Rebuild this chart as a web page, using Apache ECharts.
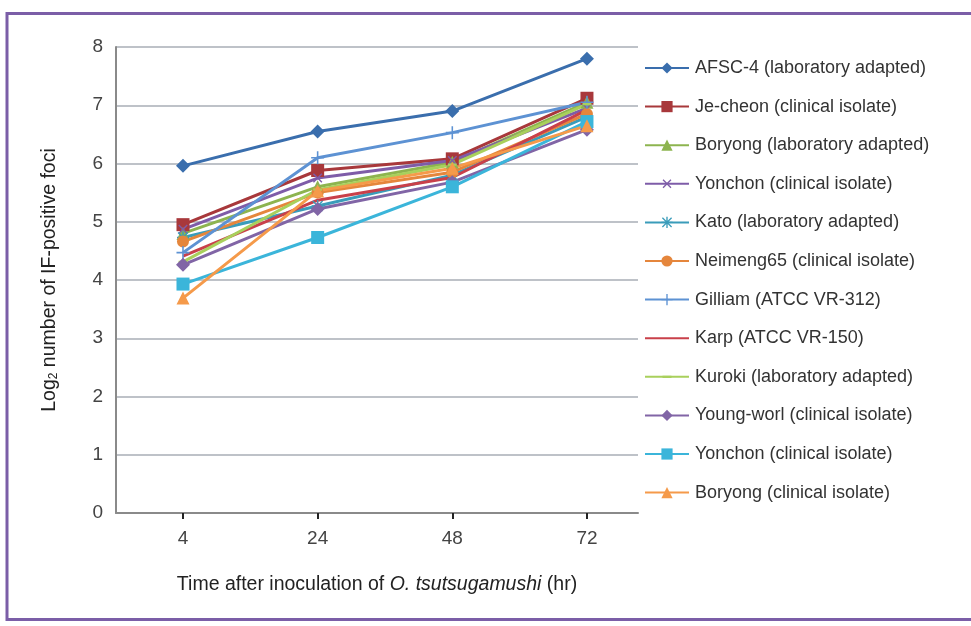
<!DOCTYPE html>
<html>
<head>
<meta charset="utf-8">
<script src="https://cdn.jsdelivr.net/npm/echarts@6/dist/echarts.min.js"></script>
<style>html,body{margin:0;padding:0;background:#fff;}#c{width:971px;height:626px;}</style>
</head>
<body>
<div id="c"></div>
<script>
var categories = ['4', '24', '48', '72'];
var seriesNames = [
  'AFSC-4 (laboratory adapted)',
  'Je-cheon (clinical isolate)',
  'Boryong (laboratory adapted)',
  'Yonchon (clinical isolate)',
  'Kato (laboratory adapted)',
  'Neimeng65 (clinical isolate)',
  'Gilliam (ATCC VR-312)',
  'Karp (ATCC VR-150)',
  'Kuroki (laboratory adapted)',
  'Young-worl (clinical isolate)',
  'Yonchon (clinical isolate) ',
  'Boryong (clinical isolate)'
];
var afsc4      = [5.96, 6.55, 6.90, 7.80];
var jecheon    = [4.95, 5.88, 6.08, 7.12];
var boryongLab = [4.80, 5.60, 6.02, 7.05];
var yonchon    = [4.87, 5.75, 6.05, 6.95];
var kato       = [4.73, 5.27, 5.80, 6.80];
var neimeng65  = [4.66, 5.50, 5.85, 6.85];
var gilliam    = [4.47, 6.10, 6.53, 7.05];
var karp       = [4.41, 5.37, 5.76, 6.92];
var kuroki     = [4.31, 5.55, 5.98, 7.02];
var youngworl  = [4.26, 5.22, 5.68, 6.58];
var yonchonCl  = [3.93, 4.73, 5.60, 6.72];
var boryongCl  = [3.69, 5.53, 5.92, 6.65];
var yTicks = [0, 1, 2, 3, 4, 5, 6, 7, 8];

var allData = [afsc4, jecheon, boryongLab, yonchon, kato, neimeng65, gilliam, karp, kuroki, youngworl, yonchonCl, boryongCl];
var colors = ['#3A6EAD', '#A8383B', '#8DB44F', '#7E5CA8', '#3A9CBA', '#E5863C',
              '#5D92D3', '#C9404A', '#A9D05C', '#8165A6', '#3BB5DA', '#F59A4A'];
var plusPath = 'path://M4.4,0 h1.2 v4.4 h4.4 v1.2 h-4.4 v4.4 h-1.2 v-4.4 h-4.4 v-1.2 h4.4 z';
var starPath = 'path://M4.4,0 h1.2 v4.4 h4.4 v1.2 h-4.4 v4.4 h-1.2 v-4.4 h-4.4 v-1.2 h4.4 z M1.3,0.5 L9.5,8.7 L8.7,9.5 L0.5,1.3 Z M8.7,0.5 L9.5,1.3 L1.3,9.5 L0.5,8.7 Z';
var blankPath = 'path://M0,0 L0.01,0 L0.01,0.01 Z M10,10 L10.01,10 L10.01,10.01 Z';
var dashPath = 'path://M0,0 L0.01,0 L0.01,0.01 Z M10,10 L10.01,10 L10.01,10.01 Z M1,4 h8 v2 h-8 z';
var symbols = [
  {s: 'diamond', size: 14},
  {s: 'rect', size: 13},
  {s: 'triangle', size: 13},
  {s: plusPath, size: 12, rot: 45},
  {s: starPath, size: 12},
  {s: 'circle', size: 12},
  {s: plusPath, size: 13},
  {s: blankPath, size: 11, hide: true},
  {s: dashPath, size: 11},
  {s: 'diamond', size: 14},
  {s: 'rect', size: 13},
  {s: 'triangle', size: 13}
];

var FONT = "'Liberation Sans', Arial, sans-serif";

var series = allData.map(function (arr, i) {
  return {
    name: seriesNames[i],
    type: 'line',
    data: arr.map(function (v, j) { return [j, v]; }),
    symbol: symbols[i].s,
    symbolSize: symbols[i].size,
    symbolRotate: symbols[i].rot || 0,
    showSymbol: !symbols[i].hide,
    lineStyle: { width: 3, color: colors[i] },
    itemStyle: { color: colors[i] },
    emphasis: { disabled: true },
    animation: false
  };
});

var chart = echarts.init(document.getElementById('c'), null, { renderer: 'canvas' });
chart.setOption({
  animation: false,
  color: colors,
  graphic: [{
    type: 'rect',
    shape: { x: 7, y: 13.5, width: 1000, height: 606 },
    style: { fill: 'none', stroke: '#7B5EA7', lineWidth: 3 },
    silent: true
  }],
  grid: { left: 116, top: 47, width: 522, height: 466, containLabel: false },
  legend: {
    orient: 'vertical',
    left: 644,
    top: 59,
    padding: 0,
    itemWidth: 44,
    itemHeight: 14,
    itemGap: 20.6,
    textStyle: { fontFamily: FONT, fontSize: 18, color: '#333', padding: [0, 0, 0, 1] },
    data: seriesNames
  },
  xAxis: {
    type: 'value',
    min: -0.4975,
    max: 3.379,
    splitLine: { show: false },
    axisLine: { show: true, onZero: false, lineStyle: { color: '#8A8A8A', width: 2 } },
    axisTick: { show: true, customValues: [0, 1, 2, 3], length: 6, lineStyle: { color: '#222', width: 2 } },
    axisLabel: {
      customValues: [0, 1, 2, 3],
      formatter: function (v) { return categories[Math.round(v)]; },
      fontFamily: FONT, fontSize: 19, color: '#444', margin: 16
    },
    name: '{a|Time after inoculation of }{i|O. tsutsugamushi}{a| (hr)}',
    nameLocation: 'middle',
    nameGap: 62,
    nameTextStyle: {
      rich: {
        a: { fontFamily: FONT, fontSize: 19.5, color: '#222' },
        i: { fontFamily: FONT, fontSize: 19.5, color: '#222', fontStyle: 'italic' }
      }
    }
  },
  yAxis: {
    type: 'value',
    min: 0,
    max: 8,
    interval: 1,
    splitLine: { show: true, lineStyle: { color: '#A9AEB6', width: 1.5 } },
    axisLine: { show: true, onZero: false, lineStyle: { color: '#8A8A8A', width: 2 } },
    axisTick: { show: false },
    axisLabel: {
      fontFamily: FONT, fontSize: 19, color: '#444', margin: 13,
      formatter: function (v) { return yTicks.indexOf(v) >= 0 ? String(v) : ''; }
    },
    name: '{a|Log}{s|2}{a| number of IF-positive foci}',
    nameLocation: 'middle',
    nameGap: 56,
    nameTextStyle: {
      rich: {
        a: { fontFamily: FONT, fontSize: 19.5, color: '#222' },
        s: { fontFamily: FONT, fontSize: 12, color: '#222', verticalAlign: 'bottom', padding: [7, 0, 0, 0] }
      }
    }
  },
  series: series
});
</script>
</body>
</html>
